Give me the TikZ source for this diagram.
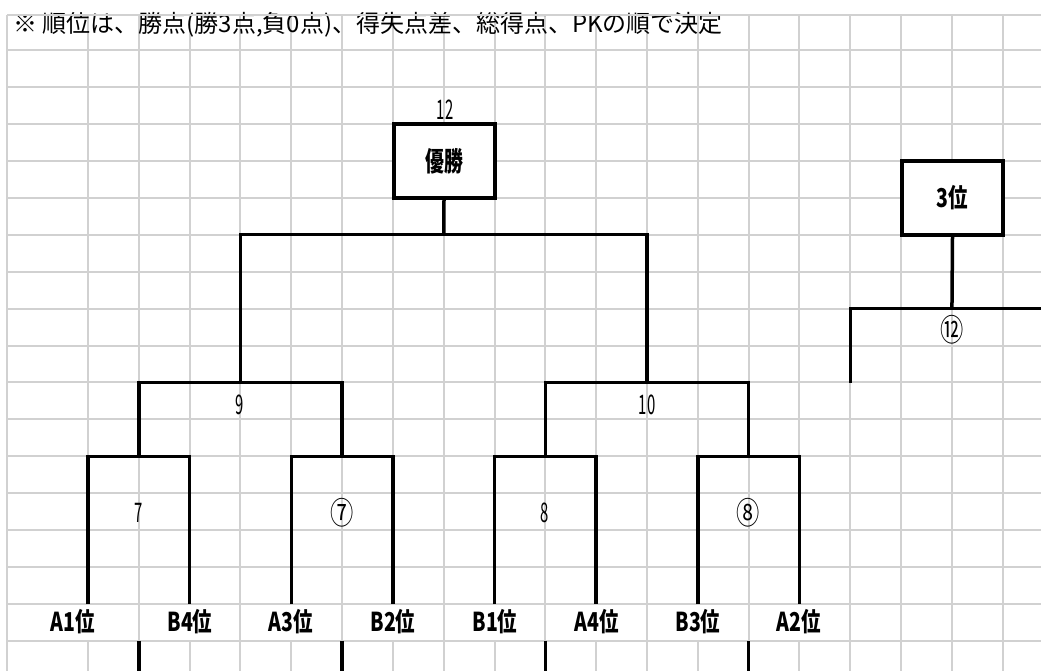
\documentclass[tikz,border=0pt]{standalone}
\usepackage{fontspec}
\setmainfont{Noto Sans CJK JP}
\newfontfamily\jp{Noto Sans CJK JP}
\newcommand\cond[2]{\scalebox{#1}[1]{#2}}
\tikzset{
  gridline/.style={draw=black!18, line width=2pt},
  br/.style={line width=3.5pt},
  resultbox/.style={draw, line width=4pt, fill=white, minimum width=101pt, minimum height=74pt, inner sep=0pt},
  seed/.style={font=\jp\bfseries\fontsize{26}{26}\selectfont, inner sep=0pt},
  num/.style={font=\jp\fontsize{27}{27}\selectfont, inner sep=0pt},
  cnum/.style={font=\jp\fontsize{31}{31}\selectfont, inner sep=0pt},
}
\begin{document}
\begin{tikzpicture}[x=1pt,y=-1pt]
\fill[white] (0,0) rectangle (1041,671);
\useasboundingbox (0,0) rectangle (1041,671);
\clip (0,0) rectangle (1041,671);
% grid
\foreach \j in {0,...,16} { \draw[gridline] (7,{50+36.94*\j}) -- (1041,{50+36.94*\j}); }
\draw[gridline] (7,15) -- (7,671);
\foreach \k in {0,...,18} {
  \pgfmathsetmacro\xx{88+50.82*\k}
  \ifnum\k<15
    \ifodd\k
      \draw[gridline] (\xx,15) -- (\xx,671);
    \else
      \draw[gridline] (\xx,15) -- (\xx,604); \draw[gridline] (\xx,641) -- (\xx,671);
    \fi
  \else
    \draw[gridline] (\xx,15) -- (\xx,671);
  \fi
}
% header text
\node[anchor=base west, inner sep=0pt, font=\jp\fontsize{24}{24}\selectfont] (hdr) at (13,33) {※ 順位は、勝点(勝3点,負0点)、得失点差、総得点、PKの順で決定};
\draw[gridline] (7,15) -- (1041,15);
% coordinates
\foreach \i/\k in {1/0,2/2,3/4,4/6,5/8,6/10,7/12,8/14} {
  \coordinate (t\i) at ({88+50.82*\k},604);
}
\coordinate (m7)  at ({88+50.82*1},456.3);
\coordinate (m7b) at ({88+50.82*5},456.3);
\coordinate (m8)  at ({88+50.82*9},456.3);
\coordinate (m8b) at ({88+50.82*13},456.3);
\coordinate (s9)  at ({88+50.82*3},382.5);
\coordinate (s10) at ({88+50.82*11},382.5);
\coordinate (fin) at ({88+50.82*7},234.7);
\foreach \n/\k in {1/1,2/5,3/9,4/13} {
  \coordinate (u\n) at ({88+50.82*\k},641);
  \coordinate (d\n) at ({88+50.82*\k},671);
}
\coordinate (p12) at ({88+50.82*17},308.6);
\coordinate (q12) at ({88+50.82*15},382.5);
\coordinate (edge) at (1045,308.6);
% boxes
\node[resultbox] (champ) at (444,161) {\cond{0.7}{\jp\bfseries\fontsize{27}{27}\selectfont 優勝}};
\node[resultbox] (third) at (952.5,198) {\cond{0.75}{\jp\bfseries\fontsize{26}{26}\selectfont 3位}};
% bracket
\draw[br] (t1) |- (m7) -| (t2);
\draw[br] (t3) |- (m7b) -| (t4);
\draw[br] (t5) |- (m8) -| (t6);
\draw[br] (t7) |- (m8b) -| (t8);
\draw[br] (m7) |- (s9) -| (m7b);
\draw[br] (m8) |- (s10) -| (m8b);
\draw[br] (s9) |- (fin) -| (s10);
\draw[br] (fin) -- (champ.south);
\foreach \n in {1,2,3,4} { \draw[br] (u\n) -- (d\n); }
\draw[br] (third.south) -- (p12);
\draw[br] (edge) -| (q12);
% seed labels
\node[seed] (l1) at (73,622) {\cond{0.75}{A1位}};
\node[seed] (l2) at (190,622) {\cond{0.75}{B4位}};
\node[seed] (l3) at (291,622) {\cond{0.75}{A3位}};
\node[seed] (l4) at (393,622) {\cond{0.75}{B2位}};
\node[seed] (l5) at (495,622) {\cond{0.75}{B1位}};
\node[seed] (l6) at (597,622) {\cond{0.75}{A4位}};
\node[seed] (l7) at (698,622) {\cond{0.75}{B3位}};
\node[seed] (l8) at (799,622) {\cond{0.75}{A2位}};
% match numbers
\node[num] (n12) at (445,110) {\cond{0.55}{12}};
\node[num] (n9) at (240,405) {\cond{0.55}{9}};
\node[num] (n10) at (647,405) {\cond{0.55}{10}};
\node[num] (n7) at (139,513) {\cond{0.55}{7}};
\node[num] (n8) at (545,513) {\cond{0.55}{8}};
\node[cnum] (c7) at (342,513) {\cond{0.75}{⑦}};
\node[cnum] (c8) at (748,513) {\cond{0.75}{⑧}};
\node[cnum] (c12) at (952,330) {\cond{0.75}{⑫}};
\end{tikzpicture}
\end{document}
